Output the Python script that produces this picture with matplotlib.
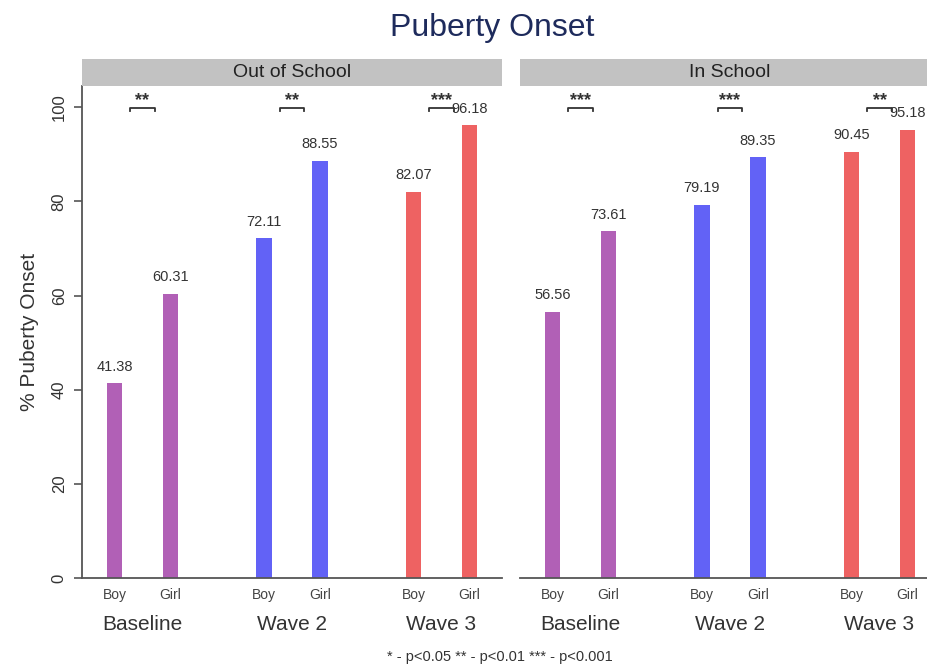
import matplotlib
matplotlib.use("Agg")
import matplotlib.pyplot as plt
import numpy as np

plt.rcParams['font.family'] = ['Liberation Sans', 'DejaVu Sans']

panels = ["Out of School", "In School"]
waves = ["Baseline", "Wave 2", "Wave 3"]
sexes = ["Boy", "Girl"]

out_boy = [41.38, 72.11, 82.07]
out_girl = [60.31, 88.55, 96.18]
in_boy = [56.56, 79.19, 90.45]
in_girl = [73.61, 89.35, 95.18]
out_sig = ["**", "**", "***"]
in_sig = ["***", "***", "**"]

colors = ["#b160b6", "#6262f6", "#ee6262"]
group_x = np.array([1.08, 3.75, 6.42])
bar_w = 0.27

fig = plt.figure(figsize=(9.28, 6.66), dpi=100)

ax_bottom = (666 - 578) / 666
ax_h = (578 - 86) / 666
ax_w = 420 / 928
lefts = [82 / 928, 520 / 928]

data = [(out_boy, out_girl, out_sig), (in_boy, in_girl, in_sig)]

for i, (name, (boys, girls, sig)) in enumerate(zip(panels, data)):
    ax = fig.add_axes([lefts[i], ax_bottom, ax_w, ax_h])
    xb = group_x - 0.5
    xg = group_x + 0.5
    ax.bar(xb, boys, width=bar_w, color=colors, linewidth=0)
    ax.bar(xg, girls, width=bar_w, color=colors, linewidth=0)
    for x, v in zip(list(xb) + list(xg), boys + girls):
        ax.annotate(f"{v:.2f}", (x, v), xytext=(0, 12), textcoords="offset points",
                    ha="center", va="center", fontsize=10.5, color="#333333")
    # significance brackets
    for gx, s in zip(group_x, sig):
        hw = 0.22
        ax.plot([gx - hw, gx - hw, gx + hw, gx + hw], [99.2, 99.9, 99.9, 99.2],
                color="#333333", lw=1.3, clip_on=False)
        ax.text(gx, 101.3, s, ha="center", va="center", fontsize=13,
                fontweight="bold", color="#333333")

    ax.set_xlim(0, 7.5)
    ax.set_ylim(0, 104.5)
    ax.set_xticks(list(xb) + list(xg))
    ax.set_xticklabels(["Boy"] * 3 + ["Girl"] * 3, fontsize=10, color="#444444")
    ax.tick_params(axis="x", length=0, pad=7)
    for gx, w in zip(group_x, waves):
        ax.text(gx, -46 / 492, w, transform=ax.get_xaxis_transform(),
                ha="center", va="center", fontsize=15, color="#333333")

    for sp in ["top", "right"]:
        ax.spines[sp].set_visible(False)
    ax.spines["bottom"].set_color("#555555")
    ax.spines["bottom"].set_linewidth(1.3)
    if i == 0:
        ax.spines["left"].set_color("#555555")
        ax.spines["left"].set_linewidth(1.3)
        ax.set_yticks([0, 20, 40, 60, 80, 100])
        ax.tick_params(axis="y", length=6, width=1.2, color="#555555", pad=5,
                       labelsize=12, labelcolor="#333333")
        for lab in ax.get_yticklabels():
            lab.set_rotation(90)
            lab.set_va("center")
    else:
        ax.spines["left"].set_visible(False)
        ax.set_yticks([])

    # strip header
    sax = fig.add_axes([lefts[i], (666 - 86) / 666, ax_w, 27 / 666])
    sax.set_facecolor("#c2c2c2")
    sax.set_xticks([])
    sax.set_yticks([])
    for sp in sax.spines.values():
        sp.set_visible(False)
    sax.text(0.5, 0.5, name, ha="center", va="center", fontsize=14, color="#222222",
             transform=sax.transAxes)

fig.text(492 / 928, 1 - 28 / 666, "Puberty Onset", ha="center", va="center",
         fontsize=23, color="#1e2b5c")
fig.text(30 / 928, 1 - 332 / 666, "% Puberty Onset", ha="center", va="center",
         rotation=90, fontsize=15, color="#333333")
fig.text(500 / 928, 9 / 666, "* - p<0.05 ** - p<0.01 *** - p<0.001", ha="center",
         va="center", fontsize=10.5, color="#333333")

fig.savefig("out.png", dpi=100)
